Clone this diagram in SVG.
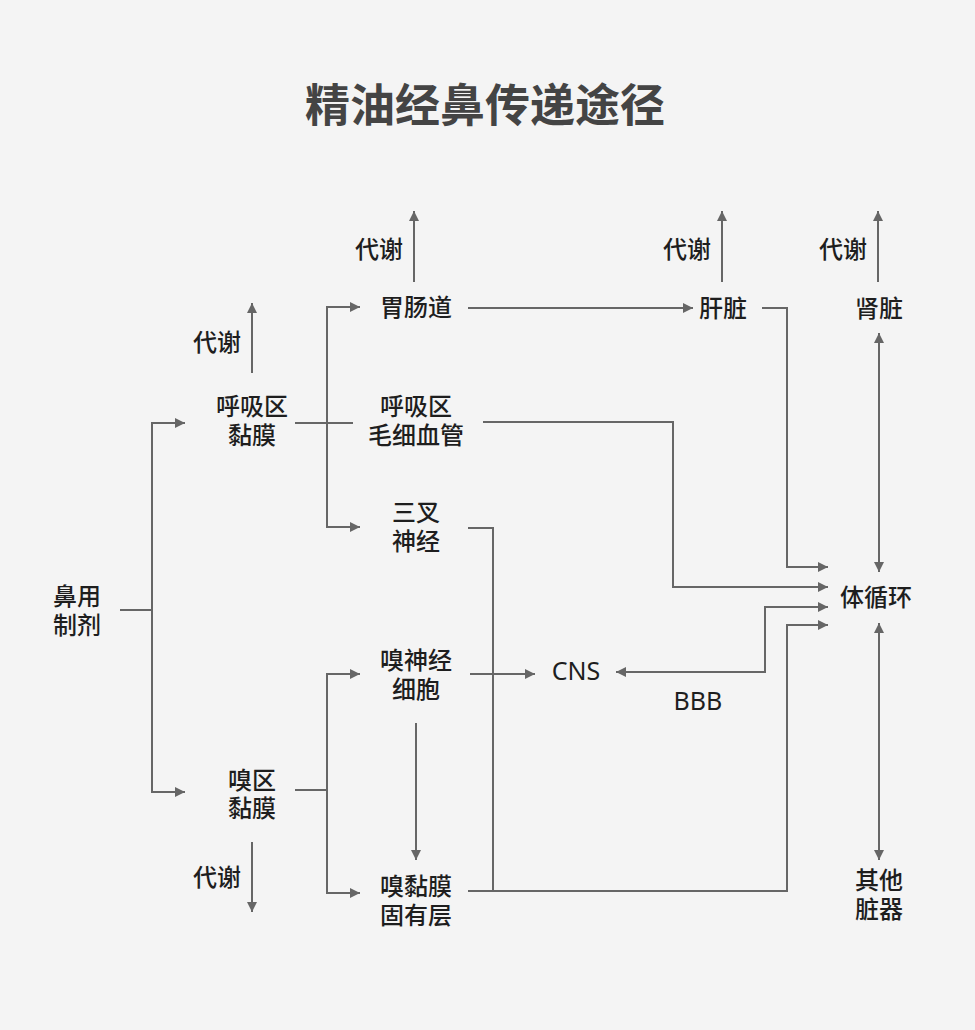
<svg xmlns="http://www.w3.org/2000/svg" width="975" height="1030" viewBox="0 0 975 1030">
<style>
.t{font-family:"Noto Sans CJK SC","Noto Sans",sans-serif;font-size:24px;font-weight:500;fill:#1e1e1e;text-anchor:middle;dominant-baseline:central}
.l{font-family:"Noto Sans","Noto Sans CJK SC",sans-serif;font-size:25px;font-weight:400;fill:#1e1e1e;text-anchor:middle;dominant-baseline:central}
.title{font-family:"Noto Sans CJK SC",sans-serif;font-size:45px;font-weight:700;fill:#444;text-anchor:middle;dominant-baseline:central}
.c{fill:none;stroke:#666;stroke-width:2}
.a{marker-end:url(#ah)}
.b{marker-start:url(#ah);marker-end:url(#ah)}
</style>
<defs>
<marker id="ah" viewBox="0 0 10 10" refX="10" refY="5" markerWidth="10" markerHeight="10" markerUnits="userSpaceOnUse" orient="auto-start-reverse">
<path d="M0,0 L10,5 L0,10 z" fill="#666"/>
</marker>
</defs>
<rect width="975" height="1030" fill="#f4f4f4"/>
<text class="title" x="485" y="102">精油经鼻传递途径</text>
<g id="connectors">
<path class="c" d="M120,610 H152"/>
<path class="c a" d="M152,610 V423 H185"/>
<path class="c a" d="M152,610 V792 H185"/>
<path class="c a" d="M252,373 V303"/>
<path class="c a" d="M252,842 V912"/>
<path class="c" d="M295,423 H353"/>
<path class="c a" d="M327,423 V307 H360"/>
<path class="c a" d="M327,423 V527 H360"/>
<path class="c a" d="M414,282 V211"/>
<path class="c a" d="M468,308 H693"/>
<path class="c a" d="M722,282 V211"/>
<path class="c a" d="M878,282 V211"/>
<path class="c a" d="M762,308 H787 V567 H828"/>
<path class="c a" d="M483,422 H673 V587 H828"/>
<path class="c b" d="M879,333 V572"/>
<path class="c b" d="M879,623 V860"/>
<path class="c" d="M468,528 H493 V892"/>
<path class="c a" d="M468,891 H787 V625 H828"/>
<path class="c" d="M295,790 H327"/>
<path class="c a" d="M327,790 V674 H360"/>
<path class="c a" d="M327,790 V893 H360"/>
<path class="c a" d="M470,674 H535"/>
<path class="c b" d="M616,672 H765 V607 H828"/>
<path class="c a" d="M416,723 V860"/>
</g>
<g id="n-nasal"><text class="t" x="77" y="594">鼻用</text><text class="t" x="77" y="623">制剂</text></g>
<g id="n-resp-mucosa"><text class="t" x="252" y="404">呼吸区</text><text class="t" x="252" y="433">黏膜</text></g>
<g id="n-met1"><text class="t" x="217" y="340">代谢</text></g>
<g id="n-olf-mucosa"><text class="t" x="252" y="778">嗅区</text><text class="t" x="252" y="806">黏膜</text></g>
<g id="n-met2"><text class="t" x="217" y="875">代谢</text></g>
<g id="n-gi"><text class="t" x="416" y="305">胃肠道</text></g>
<g id="n-met3"><text class="t" x="379" y="247">代谢</text></g>
<g id="n-capillary"><text class="t" x="416" y="404">呼吸区</text><text class="t" x="416" y="433">毛细血管</text></g>
<g id="n-trigeminal"><text class="t" x="416" y="510">三叉</text><text class="t" x="416" y="539">神经</text></g>
<g id="n-olf-neuron"><text class="t" x="416" y="658">嗅神经</text><text class="t" x="416" y="687">细胞</text></g>
<g id="n-lamina"><text class="t" x="416" y="884">嗅黏膜</text><text class="t" x="416" y="913">固有层</text></g>
<g id="n-cns"><text class="l" x="576" y="670">CNS</text></g>
<g id="n-bbb"><text class="l" x="698" y="700">BBB</text></g>
<g id="n-liver"><text class="t" x="723" y="306">肝脏</text></g>
<g id="n-met4"><text class="t" x="687" y="247">代谢</text></g>
<g id="n-kidney"><text class="t" x="879" y="306">肾脏</text></g>
<g id="n-met5"><text class="t" x="843" y="247">代谢</text></g>
<g id="n-systemic"><text class="t" x="876" y="595">体循环</text></g>
<g id="n-other"><text class="t" x="879" y="878">其他</text><text class="t" x="879" y="907">脏器</text></g>
</svg>
